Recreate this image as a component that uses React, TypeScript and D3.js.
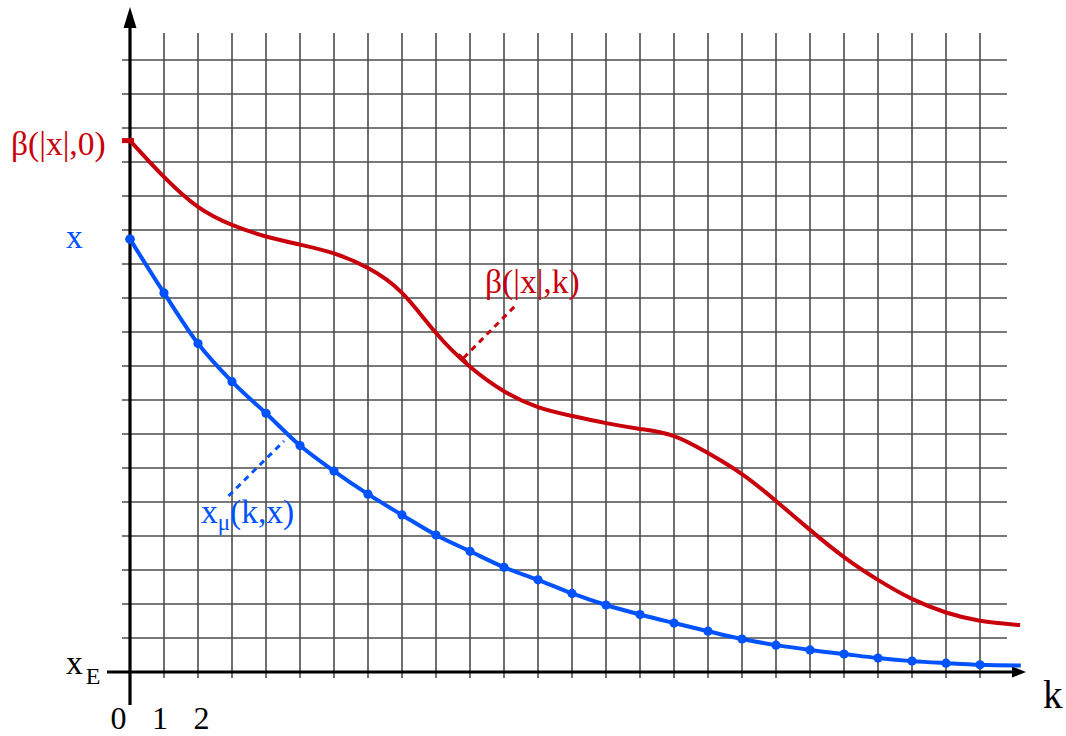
import React from "react";
import * as d3 from "d3";

// ---- data (grid units: one cell = 1) ----
const kSteps = d3.range(0, 26); // 0..25
const xMuValues = [
  12.73, 11.15, 9.66, 8.54, 7.61, 6.66, 5.91, 5.23, 4.62, 4.03, 3.55, 3.08, 2.71,
  2.31, 1.97, 1.69, 1.44, 1.2, 0.97, 0.79, 0.65, 0.53, 0.41, 0.32, 0.26, 0.21,
];
const xMuEnd = { k: 26.2, v: 0.19 };
const betaValues = [
  15.63, 14.56, 13.68, 13.15, 12.81, 12.57, 12.31, 11.88, 11.15, 9.97, 8.98, 8.26,
  7.79, 7.53, 7.32, 7.15, 6.94, 6.44, 5.82, 5.03, 4.18, 3.38, 2.71, 2.15, 1.75,
  1.51,
];
const betaEnd = { k: 26.18, v: 1.38 };
const xTickLabels = ["0", "1", "2"];
const verticalGridK = d3.range(1, 26); // 1..25
const horizontalGridV = d3.range(1, 19); // 1..18

const RED = "#c8000c";
const BLUE = "#0052ff";
const FONT = "'Liberation Serif', 'DejaVu Serif', serif";

export default function App() {
  const x = d3.scaleLinear().domain([0, 25]).range([130, 980]);
  const y = d3.scaleLinear().domain([0, 18]).range([672, 60]);

  const bluePts: [number, number][] = kSteps.map((k, i) => [k, xMuValues[i]]);
  const blueLinePts = [...bluePts, [xMuEnd.k, xMuEnd.v] as [number, number]];
  const redPts: [number, number][] = kSteps.map((k, i) => [k, betaValues[i]]);
  redPts.push([betaEnd.k, betaEnd.v]);

  const blueLine = d3
    .line<[number, number]>()
    .x((d) => x(d[0]))
    .y((d) => y(d[1]))
    .curve(d3.curveMonotoneX);
  const redLine = d3
    .line<[number, number]>()
    .x((d) => x(d[0]))
    .y((d) => y(d[1]))
    .curve(d3.curveNatural);

  const gridColor = "#4c4c4c";
  const gridTop = 33;
  const gridBottom = 678;
  const gridLeft = 122;
  const gridRight = 1007;

  return (
    <div style={{ position: "absolute", left: 0, top: 0 }}>
      <svg width={1066} height={736} style={{ display: "block", background: "#fff" }}>
        {/* grid */}
        <g stroke={gridColor} strokeWidth={1.6}>
          {verticalGridK.map((k) => (
            <line key={"v" + k} x1={x(k)} x2={x(k)} y1={gridTop} y2={gridBottom} />
          ))}
          {horizontalGridV.map((v) => (
            <line key={"h" + v} x1={gridLeft} x2={gridRight} y1={y(v)} y2={y(v)} />
          ))}
        </g>

        {/* axes */}
        <g stroke="#000" strokeWidth={3.2}>
          <line x1={x(0)} x2={x(0)} y1={705} y2={22} />
          <line x1={107} x2={1015} y1={y(0)} y2={y(0)} />
        </g>
        <path d={`M${x(0)},7 L${x(0) - 6.5},28 L${x(0) + 6.5},28 Z`} fill="#000" />
        <path d={`M1026,${y(0)} L1012,${y(0) - 5.5} L1012,${y(0) + 5.5} Z`} fill="#000" />

        {/* beta curve */}
        <path d={redLine(redPts) || ""} fill="none" stroke={RED} strokeWidth={4} strokeLinecap="butt" />
        <rect x={122} y={y(betaValues[0]) - 2.5} width={12} height={5} fill={RED} />

        {/* x_mu curve */}
        <path d={blueLine(blueLinePts) || ""} fill="none" stroke={BLUE} strokeWidth={4} />
        {bluePts.map((d, i) => (
          <circle key={i} cx={x(d[0])} cy={y(d[1])} r={i === 0 ? 4.8 : 4.6} fill={BLUE} />
        ))}

        {/* leader lines */}
        <line x1={463.5} y1={358} x2={517} y2={304} stroke={RED} strokeWidth={3} strokeDasharray="6 5" />
        <line x1={459} y1={354} x2={467} y2={362} stroke={RED} strokeWidth={2} />
        <line x1={228.5} y1={496} x2={284} y2={441} stroke={BLUE} strokeWidth={3} strokeDasharray="6 5" />

        {/* labels */}
        <g fontFamily={FONT}>
          <text x={11} y={155} fontSize={33.5} fill={RED}>β(|x|,0)</text>
          <text x={485} y={293} fontSize={33.5} fill={RED}>β(|x|,k)</text>
          <text x={66} y={248} fontSize={33.5} fill={BLUE}>x</text>
          <text x={201} y={523} fontSize={33.5} fill={BLUE}>
            x<tspan fontSize={23} dy={7}>μ</tspan>
            <tspan dy={-7} fontSize={33.5}>(k,x)</tspan>
          </text>
          <text x={66} y={674} fontSize={33.5} fill="#000">
            x<tspan fontSize={24} dy={10} dx={3}>E</tspan>
          </text>
          {xTickLabels.map((t, i) => (
            <text key={t} x={118.5 + i * 41.5} y={729} fontSize={32} textAnchor="middle" fill="#000">
              {t}
            </text>
          ))}
          <text x={1043} y={708} fontSize={39} fill="#000">k</text>
        </g>
      </svg>
    </div>
  );
}
